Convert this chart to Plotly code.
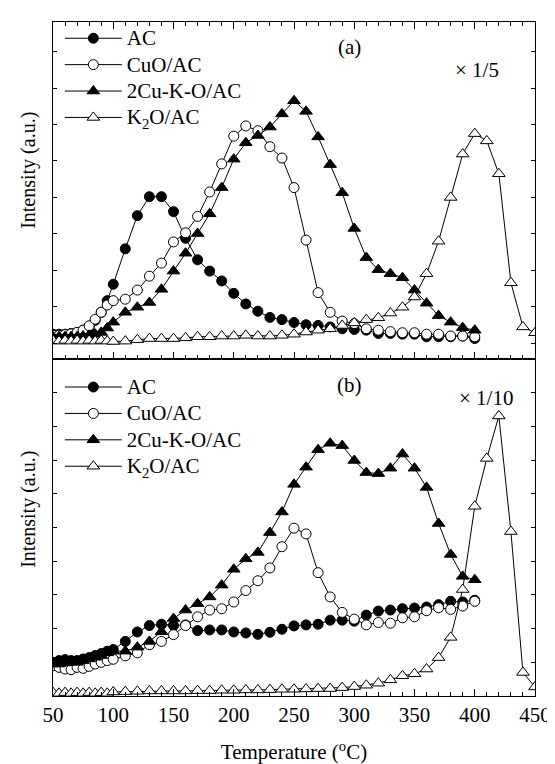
import plotly.graph_objects as go

FONT = "Liberation Serif"

# ---------------- data ----------------
temp_low = [50, 55, 60, 65, 70, 75, 80, 85, 90, 95]
temp_main = [100, 110, 120, 130, 140, 150, 160, 170, 180, 190, 200, 210, 220, 230, 240,
             250, 260, 270, 280, 290, 300, 310, 320, 330, 340, 350, 360, 370, 380, 390, 400]
temp_ext = [410, 420, 430, 440, 450]
temp = temp_low + temp_main
temp_k2o = temp + temp_ext

# panel (a)
ac_a = [0.25, 0.25, 0.25, 0.27, 0.30, 0.36, 0.42, 0.63, 0.85, 1.17,
        1.62, 2.59, 3.50, 4.02, 4.02, 3.61, 2.88, 2.29, 1.98, 1.71, 1.37, 1.08, 0.88, 0.71, 0.65,
        0.57, 0.51, 0.49, 0.45, 0.40, 0.38, 0.36, 0.27, 0.27, 0.25, 0.25, 0.18, 0.18, 0.18, 0.20, 0.13]
cuo_a = [0.22, 0.22, 0.24, 0.26, 0.30, 0.36, 0.48, 0.66, 0.85, 1.05,
         1.17, 1.21, 1.46, 1.84, 2.20, 2.78, 3.03, 3.48, 4.15, 4.92, 5.68, 5.96, 5.83, 5.39, 5.08,
         4.27, 2.83, 1.39, 0.85, 0.61, 0.54, 0.40, 0.36, 0.32, 0.29, 0.29, 0.25, 0.25, 0.20, 0.20, 0.18]
cuk_a = [0.18, 0.18, 0.18, 0.18, 0.18, 0.20, 0.22, 0.25, 0.30, 0.42,
         0.58, 0.85, 0.99, 1.12, 1.48, 1.98, 2.47, 3.01, 3.55, 4.27, 5.05, 5.50, 5.70, 5.93, 6.29,
         6.65, 6.36, 5.66, 4.90, 4.13, 3.15, 2.35, 2.02, 1.91, 1.80, 1.46, 1.10, 0.76, 0.58, 0.43, 0.36]
k2o_a = [0.08, 0.06, 0.08, 0.06, 0.08, 0.06, 0.08, 0.06, 0.08, 0.06,
         0.05, 0.06, 0.10, 0.13, 0.13, 0.13, 0.15, 0.18, 0.18, 0.20, 0.20, 0.22, 0.20, 0.20, 0.22,
         0.25, 0.31, 0.36, 0.40, 0.49, 0.56, 0.65, 0.70, 0.83, 0.99, 1.27, 1.91, 2.80, 4.00, 5.19, 5.75,
         5.55, 4.65, 1.66, 0.45, 0.29]

# panel (b)
ac_b = [1.00, 1.05, 1.08, 1.05, 1.05, 1.10, 1.14, 1.20, 1.26, 1.33,
        1.38, 1.62, 1.90, 2.09, 2.13, 2.09, 2.11, 1.94, 1.96, 1.96, 1.90, 1.87, 1.83, 1.89, 1.98,
        2.08, 2.11, 2.13, 2.25, 2.25, 2.22, 2.40, 2.52, 2.55, 2.59, 2.61, 2.64, 2.71, 2.81, 2.79, 2.84]
cuo_b = [0.90, 0.85, 0.80, 0.78, 0.85, 0.82, 0.88, 0.95, 1.00, 1.05,
         1.09, 1.19, 1.28, 1.52, 1.62, 1.82, 2.09, 2.35, 2.55, 2.59, 2.79, 3.13, 3.42, 3.80, 4.43,
         4.98, 4.81, 3.66, 2.94, 2.48, 2.28, 2.11, 2.18, 2.16, 2.32, 2.35, 2.53, 2.62, 2.57, 2.67, 2.81]
cuk_b = [0.95, 0.95, 0.98, 1.00, 1.00, 1.05, 1.10, 1.15, 1.20, 1.28,
         1.33, 1.33, 1.45, 1.62, 1.91, 2.30, 2.55, 2.74, 2.94, 3.29, 3.76, 4.07, 4.26, 4.85, 5.46,
         6.28, 6.79, 7.31, 7.50, 7.43, 6.99, 6.63, 6.60, 6.76, 7.18, 6.76, 6.19, 5.12, 4.20, 3.55, 3.45]
k2o_b = [0.10, 0.08, 0.10, 0.08, 0.10, 0.08, 0.10, 0.08, 0.10, 0.08,
         0.12, 0.13, 0.14, 0.15, 0.15, 0.15, 0.15, 0.16, 0.16, 0.17, 0.17, 0.18, 0.18, 0.19, 0.20,
         0.20, 0.21, 0.22, 0.22, 0.25, 0.28, 0.32, 0.38, 0.48, 0.60, 0.66, 0.80, 1.14, 1.74, 3.16, 5.63,
         7.05, 8.31, 4.88, 0.70, 0.27]

names = ["AC", "CuO/AC", "2Cu-K-O/AC", "K<sub>2</sub>O/AC"]
x_ticks = [50, 100, 150, 200, 250, 300, 350, 400, 450]

# ---------------- figure ----------------
W, H = 555, 764
ML, MR, MT, MB = 45, 18, 13, 65
PW, PH = W - ML - MR, H - MT - MB


def px_x(p):
    return (p - ML) / PW


def px_y(p):
    return (H - MB - p) / PH


styles = [
    dict(symbol="circle", size=10, color="black"),
    dict(symbol="circle", size=10, color="white"),
    dict(symbol="triangle-up", size=11, color="black"),
    dict(symbol="triangle-up", size=11, color="white"),
]

fig = go.Figure()
panel_a = [(temp, ac_a), (temp, cuo_a), (temp, cuk_a), (temp_k2o, k2o_a)]
panel_b = [(temp, ac_b), (temp, cuo_b), (temp, cuk_b), (temp_k2o, k2o_b)]


def legend_name(n):
    return '<span style="font-size:21px">' + n + "</span>"


for panel, xa, ya, lg in ((panel_a, "x", "y", "legend"), (panel_b, "x2", "y2", "legend2")):
    for i, (xs, ys) in enumerate(panel):
        mk = dict(styles[i], line=dict(color="black", width=1))
        fig.add_trace(go.Scatter(x=xs, y=ys, mode="lines+markers", name=legend_name(names[i]),
                                 line=dict(color="black", width=1), marker=mk,
                                 xaxis=xa, yaxis=ya, legend=lg))

axis_common = dict(showgrid=False, zeroline=False, showline=True, linecolor="black",
                   linewidth=1, ticks="inside", tickcolor="black", tickwidth=1)
minor_x = dict(ticks="inside", dtick=10, tick0=50, ticklen=4, tickcolor="black")

fig.update_layout(
    width=W, height=H,
    margin=dict(l=ML, r=MR, t=MT, b=MB),
    paper_bgcolor="white", plot_bgcolor="white",
    font=dict(family=FONT, size=21, color="black"),
    xaxis=dict(range=[50, 450], domain=[0, 1], anchor="y", showticklabels=False,
               tickvals=x_ticks, ticklen=7, mirror="ticks", minor=minor_x, **axis_common),
    yaxis=dict(range=[-0.43, 8.81], domain=[0.5, 1], anchor="x", showticklabels=False,
               dtick=1, tick0=0, ticklen=4, mirror="ticks", **axis_common),
    xaxis2=dict(range=[50, 450], domain=[0, 1], anchor="y2", matches="x",
                tickvals=x_ticks, ticktext=[str(v) for v in x_ticks], ticklen=7, mirror=True,
                minor=minor_x, tickfont=dict(family=FONT, size=21),
                title=dict(text="Temperature (<sup>o</sup>C)", font=dict(family=FONT, size=21),
                           standoff=18),
                **axis_common),
    yaxis2=dict(range=[0, 10], domain=[0, 0.5], anchor="x2", showticklabels=False,
                dtick=1, tick0=0, ticklen=4, mirror="ticks", **axis_common),
    legend=dict(x=px_x(52), y=px_y(11), xanchor="left", yanchor="top",
                bgcolor="rgba(0,0,0,0)", font=dict(family=FONT, size=18),
                itemwidth=57, tracegroupgap=0, borderwidth=0),
    legend2=dict(x=px_x(52), y=px_y(366), xanchor="left", yanchor="top",
                 bgcolor="rgba(0,0,0,0)", font=dict(family=FONT, size=18),
                 itemwidth=57, tracegroupgap=0, borderwidth=0),
    showlegend=True,
)

annos = [
    dict(text="(a)", x=px_x(348), y=px_y(38)),
    dict(text="× 1/5", x=px_x(478), y=px_y(62)),
    dict(text="(b)", x=px_x(348), y=px_y(382)),
    dict(text="× 1/10", x=px_x(487), y=px_y(396)),
]
for a in annos:
    fig.add_annotation(xref="paper", yref="paper", showarrow=False,
                       xanchor="center", yanchor="middle",
                       font=dict(family=FONT, size=21, color="black"), **a)

for yc in (164, 509):
    fig.add_annotation(xref="paper", yref="paper", x=px_x(20), y=px_y(yc), showarrow=False,
                       xanchor="center", yanchor="middle",
                       text="Intensity (a.u.)", textangle=-90,
                       font=dict(family=FONT, size=20, color="black"))

fig.write_html("out.html")
